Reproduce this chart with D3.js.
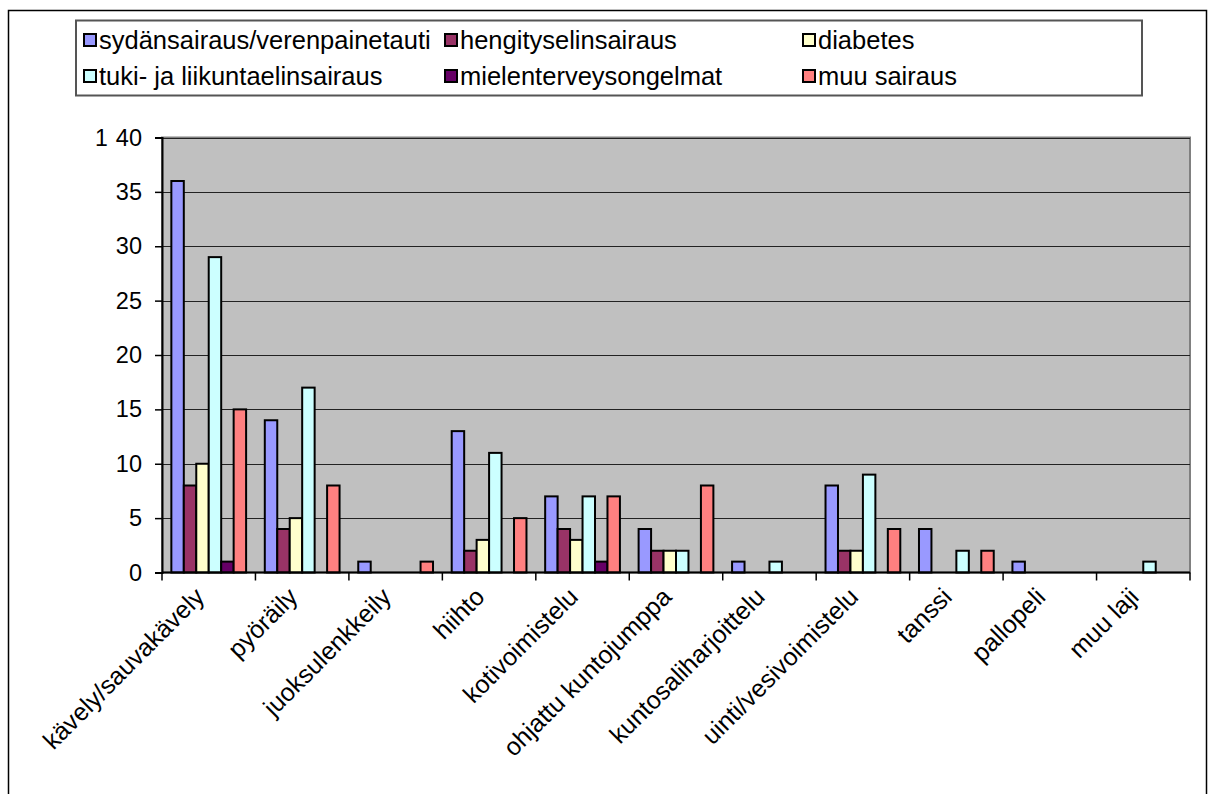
<!DOCTYPE html>
<html>
<head>
<meta charset="utf-8">
<script src="https://cdn.jsdelivr.net/npm/d3@7"></script>
<style>
  html, body { margin: 0; padding: 0; background: #fff; }
  svg { display: block; font-family: "Liberation Sans", Arial, sans-serif; }
</style>
</head>
<body>
<svg id="chart" width="1212" height="794"></svg>
<script>
// Liikuntamuodot sairausryhmittäin
const categories = ["kävely/sauvakävely", "pyöräily", "juoksulenkkeily", "hiihto", "kotivoimistelu",
  "ohjattu kuntojumppa", "kuntosaliharjoittelu", "uinti/vesivoimistelu", "tanssi", "pallopeli", "muu laji"];

const seriesNames = ["sydänsairaus/verenpainetauti", "hengityselinsairaus", "diabetes",
  "tuki- ja liikuntaelinsairaus", "mielenterveysongelmat", "muu sairaus"];
const seriesColors = ["#9999FF", "#993366", "#FFFFCC", "#CCFFFF", "#660066", "#FF8080"];

const sydan      = [36, 14, 1, 13, 7, 4, 1, 8, 4, 1, 0];
const hengitys   = [8, 4, 0, 2, 4, 2, 0, 2, 0, 0, 0];
const diabetes   = [10, 5, 0, 3, 3, 2, 0, 2, 0, 0, 0];
const tuki       = [29, 17, 0, 11, 7, 2, 1, 9, 2, 0, 1];
const mielen     = [1, 0, 0, 0, 1, 0, 0, 0, 0, 0, 0];
const muu        = [15, 8, 1, 5, 7, 8, 0, 4, 2, 0, 0];
const seriesValues = [sydan, hengitys, diabetes, tuki, mielen, muu];

const yTicks = [0, 5, 10, 15, 20, 25, 30, 35, 40];

const svg = d3.select("#chart");

// outer chart frame
svg.append("rect")
  .attr("x", 8.5).attr("y", 10.5).attr("width", 1198).attr("height", 800)
  .attr("fill", "#fff").attr("stroke", "#000").attr("stroke-width", 1.5);

const plot = { left: 162, right: 1190, top: 137.5, bottom: 572.5 };

const x = d3.scaleBand().domain(categories).range([plot.left, plot.right]);
const bw = x.bandwidth();
const y = d3.scaleLinear().domain([0, 40]).range([plot.bottom, plot.top]);

// plot background
svg.append("rect")
  .attr("x", plot.left).attr("y", plot.top)
  .attr("width", plot.right - plot.left).attr("height", plot.bottom - plot.top)
  .attr("fill", "#C0C0C0").attr("stroke", "#808080").attr("stroke-width", 2);

// gridlines
svg.append("g")
  .selectAll("line").data(yTicks.filter(d => d > 0)).join("line")
  .attr("x1", plot.left).attr("x2", plot.right)
  .attr("y1", d => Math.round(y(d)) + 0.5).attr("y2", d => Math.round(y(d)) + 0.5)
  .attr("stroke", "#222").attr("stroke-width", 1);

// clustered bars: six bars per category, gap width 150 %
const barW = bw / 7.5;
const groupOffset = barW * 0.75;
seriesValues.forEach((vals, si) => {
  svg.append("g")
    .selectAll("rect").data(vals.map((v, i) => ({ v, c: categories[i] })).filter(d => d.v > 0)).join("rect")
    .attr("x", d => x(d.c) + groupOffset + si * barW)
    .attr("y", d => y(d.v))
    .attr("width", barW)
    .attr("height", d => y(0) - y(d.v))
    .attr("fill", seriesColors[si])
    .attr("stroke", "#000").attr("stroke-width", 2);
});

// y axis
const yAxis = d3.axisLeft(y).tickValues(yTicks).tickSize(7).tickPadding(13).tickFormat(d3.format("d"));
const gy = svg.append("g").attr("transform", `translate(${plot.left},0)`).call(yAxis);
gy.select(".domain").attr("stroke", "#000").attr("stroke-width", 2);
gy.selectAll(".tick line").attr("stroke", "#000").attr("stroke-width", 1.5);
gy.selectAll(".tick text").attr("font-size", 23.5).attr("fill", "#000")
  .attr("font-family", "Liberation Sans, Arial, sans-serif");

// x axis: ticks on category boundaries
const gx = svg.append("g");
gx.append("line")
  .attr("x1", plot.left).attr("x2", plot.right)
  .attr("y1", plot.bottom).attr("y2", plot.bottom)
  .attr("stroke", "#000").attr("stroke-width", 2);
const boundaries = categories.map(c => x(c)).concat([plot.right]);
gx.selectAll("line.tk").data(boundaries).join("line").attr("class", "tk")
  .attr("x1", d => d).attr("x2", d => d)
  .attr("y1", plot.bottom).attr("y2", plot.bottom + 8)
  .attr("stroke", "#000").attr("stroke-width", 1.5);

gx.selectAll("text.cat").data(categories).join("text").attr("class", "cat")
  .attr("transform", d => `translate(${x(d) + bw / 2 - 3},${plot.bottom + 26}) rotate(-45)`)
  .attr("text-anchor", "end")
  .attr("font-size", 25)
  .text(d => d);

// clipped axis title fragment
svg.append("text").attr("x", 95).attr("y", 146).attr("font-size", 23).text("1");

// legend
const legend = svg.append("g");
legend.append("rect")
  .attr("x", 76).attr("y", 20.5).attr("width", 1066).attr("height", 75)
  .attr("fill", "#fff").attr("stroke", "#555").attr("stroke-width", 2);
const colX = [84, 445, 803];
const rowY = [41, 77];
seriesNames.forEach((name, i) => {
  const cx = colX[i % 3], cy = rowY[Math.floor(i / 3)];
  legend.append("rect")
    .attr("x", cx).attr("y", cy - 7).attr("width", 12).attr("height", 12)
    .attr("fill", seriesColors[i]).attr("stroke", "#000").attr("stroke-width", 2);
  legend.append("text")
    .attr("x", cx + 15).attr("y", cy + 8)
    .attr("font-size", 25.5)
    .text(name);
});
</script>
</body>
</html>
